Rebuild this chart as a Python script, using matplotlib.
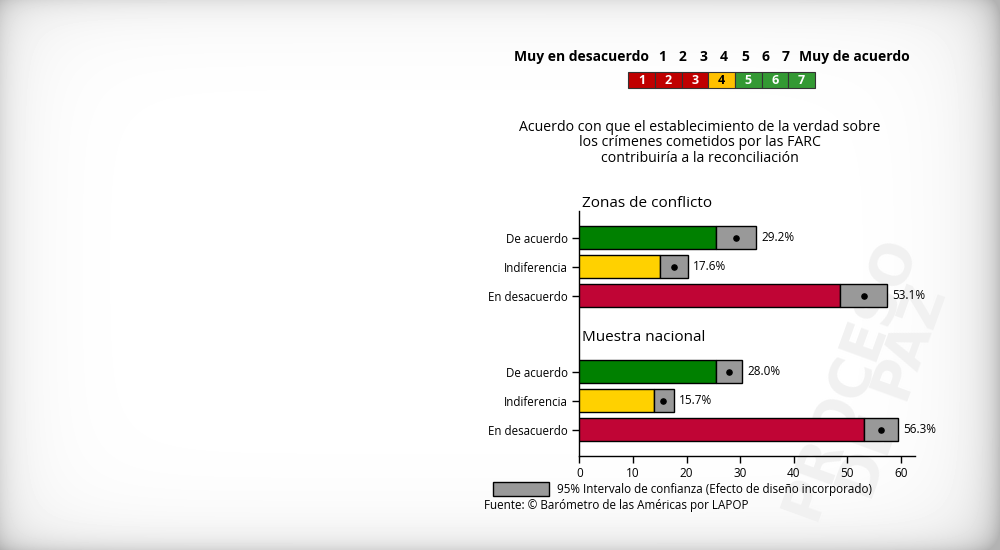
import numpy as np
import matplotlib
matplotlib.use("Agg")
import matplotlib.pyplot as plt
from matplotlib.patches import Rectangle

plt.rcParams['font.family'] = ['Open Sans', 'DejaVu Sans']

# ---------------- data ----------------
categories = ["De acuerdo", "Indiferencia", "En desacuerdo"]
groups = ["Zonas de conflicto", "Muestra nacional"]
zonas_values = [29.2, 17.6, 53.1]
zonas_low = [25.4, 15.1, 48.7]
zonas_high = [33.0, 20.2, 57.4]
nacional_values = [28.0, 15.7, 56.3]
nacional_low = [25.4, 13.9, 53.0]
nacional_high = [30.4, 17.6, 59.5]
scale_labels = ["1", "2", "3", "4", "5", "6", "7"]
xticks = [0, 10, 20, 30, 40, 50, 60]
title_lines = ["Acuerdo con que el establecimiento de la verdad sobre",
               "los crímenes cometidos por las FARC",
               "contribuiría a la reconciliación"]

bar_colors = ["#008000", "#FFD100", "#C00535"]
scale_colors = ["#C00000"] * 3 + ["#FFC000"] + ["#339933"] * 3
scale_text_colors = ["white"] * 3 + ["black"] + ["white"] * 3

W, H = 1000, 550
fig = plt.figure(figsize=(W / 100, H / 100), dpi=100)

# ---------------- background vignette ----------------
bg = fig.add_axes([0, 0, 1, 1], zorder=0)
xx, yy = np.meshgrid(np.arange(W), np.arange(H))
shade = (1.0
         - 0.08 * np.exp(-xx / 12.0) - 0.06 * np.exp(-xx / 40.0)
         - 0.16 * np.exp(-(W - 1 - xx) / 14.0) - 0.08 * np.exp(-(W - 1 - xx) / 45.0)
         - 0.07 * np.exp(-yy / 10.0) - 0.05 * np.exp(-yy / 35.0)
         - 0.10 * np.exp(-(H - 1 - yy) / 10.0) - 0.06 * np.exp(-(H - 1 - yy) / 35.0))
shade = np.clip(shade, 0.70, 1.0)
bg.imshow(shade, cmap="gray", vmin=0, vmax=1, extent=[0, W, H, 0], aspect="auto")
bg.text(872, 385, "PROCESO\nDE PAZ", rotation=70, ha="center", va="center",
        fontsize=40, fontweight="bold", color="#f1f1f1", linespacing=0.85,
        family="DejaVu Sans")
bg.set_xlim(0, W)
bg.set_ylim(H, 0)
bg.axis("off")

# ---------------- header scale ----------------
fig.text(0.649, 1 - 57 / H, "Muy en desacuerdo", ha="right", va="center",
         fontsize=10, fontweight="bold", zorder=5)
num_x = [662, 682, 703, 724, 745, 765, 786]
for lbl, nx in zip(scale_labels, num_x):
    fig.text(nx / W, 1 - 57 / H, lbl, ha="center", va="center",
             fontsize=10, fontweight="bold", zorder=5)
fig.text(0.799, 1 - 57 / H, "Muy de acuerdo", ha="left", va="center",
         fontsize=10, fontweight="bold", zorder=5)

bw = 26.67
for i, (lbl, c, tc) in enumerate(zip(scale_labels, scale_colors, scale_text_colors)):
    x0 = 628.3 + i * bw
    fig.patches.append(Rectangle((x0 / W, 1 - 88.3 / H), bw / W, 16 / H,
                                 transform=fig.transFigure, facecolor=c,
                                 edgecolor="#333333", lw=0.8, zorder=5))
    fig.text((x0 + bw / 2) / W, 1 - 80.3 / H, lbl, ha="center", va="center",
             fontsize=9, fontweight="bold", color=tc, zorder=6)

# ---------------- title ----------------
for k, line in enumerate(title_lines):
    fig.text(0.6995, 1 - (128 + 15 * k) / H, line, ha="center", va="center",
             fontsize=10.15, zorder=5)

# ---------------- chart ----------------
ax = fig.add_axes([0.5793, 0.1715, 0.3357, 0.4449], zorder=2)
ax.set_facecolor("none")

group_offsets = [0.0, 4.63]
all_vals = [(zonas_values, zonas_low, zonas_high),
            (nacional_values, nacional_low, nacional_high)]
ypos_all, ylabels_all = [], []
bh = 0.79
for g, (off, (vals, lows, highs)) in enumerate(zip(group_offsets, all_vals)):
    ys = [off + i for i in range(len(categories))]
    for y, v, lo, hi, c in zip(ys, vals, lows, highs, bar_colors):
        ax.barh(y, lo, height=bh, color=c, edgecolor="black", lw=1.0, zorder=3)
        ax.barh(y, hi - lo, left=lo, height=bh, color="#999999",
                edgecolor="black", lw=1.0, zorder=3)
        ax.scatter([v], [y], s=14, color="black", zorder=4)
        ax.text(hi + 0.9, y, f"{v:.1f}%", ha="left", va="center", fontsize=8.5)
    ypos_all += ys
    ylabels_all += categories
    ax.text(0.45, off - 1.18, groups[g], ha="left", va="center", fontsize=11,
            clip_on=False)

ax.set_xlim(0, 62.6)
ax.set_ylim(7.52, -0.92)
ax.set_yticks(ypos_all)
ax.set_yticklabels(ylabels_all, fontsize=8.3)
ax.set_xticks(xticks)
ax.set_xticklabels([str(t) for t in xticks], fontsize=8.5)
ax.tick_params(axis="both", length=5, width=1, color="black", pad=3)
for s in ["top", "right"]:
    ax.spines[s].set_visible(False)
for s in ["left", "bottom"]:
    ax.spines[s].set_linewidth(1.0)
    ax.spines[s].set_color("black")

# ---------------- legend / source ----------------
fig.patches.append(Rectangle((0.493, 1 - 495.7 / H), 0.056, 14 / H,
                             transform=fig.transFigure, facecolor="#999999",
                             edgecolor="black", lw=1.0, zorder=5))
fig.text(0.557, 1 - 489 / H, "95% Intervalo de confianza (Efecto de diseño incorporado)",
         ha="left", va="center", fontsize=8.35, zorder=5)
fig.text(0.484, 1 - 506 / H, "Fuente: © Barómetro de las Américas por LAPOP",
         ha="left", va="center", fontsize=8.35, zorder=5)

fig.savefig("out.png", dpi=100)
